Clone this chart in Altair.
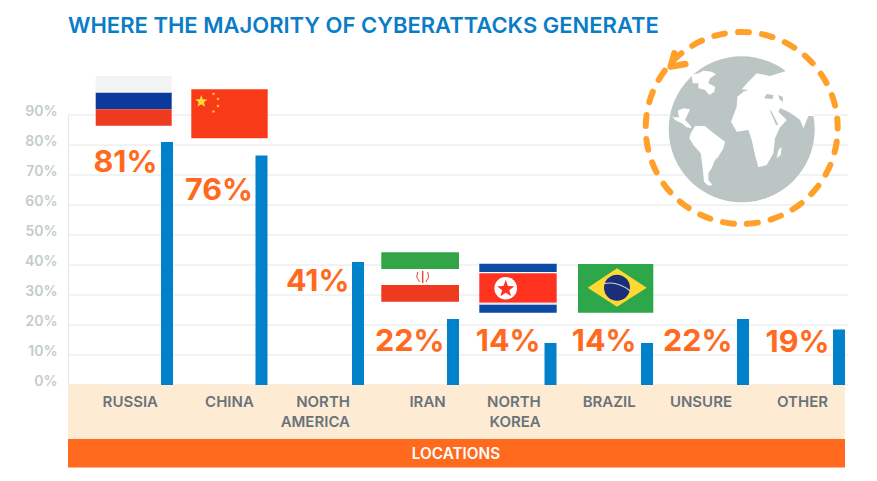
import math
import altair as alt
import pandas as pd

title_text = "WHERE THE MAJORITY OF CYBERATTACKS GENERATE"
categories = ["Russia", "China", "North America", "Iran", "North Korea", "Brazil", "Unsure", "Other"]
axis_names = ["RUSSIA", "CHINA", "NORTH\nAMERICA", "IRAN", "NORTH\nKOREA", "BRAZIL", "UNSURE", "OTHER"]
bar_values = [81, 76.5, 41, 22, 14, 14, 22, 18.5]
label_values = [81, 76, 41, 22, 14, 14, 22, 19]
y_ticks = [0, 10, 20, 30, 40, 50, 60, 70, 80, 90]

# styling tweaks per column, in pixels
bar_nudge = [1, -0.7, -0.4, -1.6, -0.3, 0, -0.2, -0.4]
label_gap = [3.5, 2.5, 2.5, 2.5, 4, 4.5, 4.5, 3.5]
label_drop = [30, 44, 29, 32, 8, 8, 32, 22]
name_gap = [3, 1.7, 2, 1.3, 3.7, 5.3, 5, 5]

FONT = "Inter"
ORANGE = "#FF6A1F"
BLUE = "#0081C9"
OX, OY = 68, 115
W, H = 777, 270

df = pd.DataFrame({"cat": categories, "name": axis_names, "bar": bar_values,
                   "label": [f"{v}%" for v in label_values]})
x_scale = alt.Scale(type="point", domain=categories, range=[166 - OX, 839.4 - OX], padding=0)
y_scale = alt.Scale(domain=[0, 90], range=[H, 0])
y_axis = alt.Axis(values=y_ticks, labelExpr="datum.value + '%'", grid=False, ticks=False,
                  domain=True, domainColor="#E6E6E6", labelColor="#C3CBCD", labelFont=FONT,
                  labelFontSize=14, labelFontWeight=600, labelPadding=11, labelOffset=-4,
                  labelOverlap=False)
dummy = alt.Data(values=[{"a": 1}])


def rect(x0, y0, x1, y1, color):
    return alt.Chart(dummy).mark_rect(color=color, opacity=1).encode(
        x=alt.value(x0 - OX), x2=alt.value(x1 - OX), y=alt.value(y0 - OY), y2=alt.value(y1 - OY))


def shape(path, cx, cy, fill=None, stroke=None, sw=0, size=4, **kw):
    args = dict(shape=path, size=size, opacity=1, strokeWidth=sw)
    if fill:
        args.update(filled=True, fill=fill)
    else:
        args.update(filled=False, fill="transparent")
    if stroke:
        args.update(stroke=stroke)
    args.update(kw)
    return alt.Chart(dummy).mark_point(**args).encode(x=alt.value(cx - OX), y=alt.value(cy - OY))


def star(r):
    pts = []
    for i in range(10):
        a = -math.pi / 2 + i * math.pi / 5
        q = r if i % 2 == 0 else r * 0.42
        pts.append(f"{q * math.cos(a):.2f},{q * math.sin(a):.2f}")
    return "M" + "L".join(pts) + "Z"


def poly(points, close=True, k=1 / 3, c=(335, 268)):
    s = "L".join(f"{(x - c[0]) * k:.2f},{(y - c[1]) * k:.2f}" for x, y in points)
    return "M" + s + ("Z" if close else "")


layers = []

# grid
grid_df = pd.DataFrame({"t": y_ticks})
layers.append(alt.Chart(grid_df).mark_rule(color="#E6E6E6", strokeWidth=1).encode(
    y=alt.Y("t:Q", scale=y_scale, title=None, axis=y_axis),
    x=alt.value(0), x2=alt.value(780)))

# title
layers.append(alt.Chart(dummy).mark_text(text=title_text, font=FONT, fontSize=22, fontWeight=600,
                                         color="#0A7DC6", align="left", baseline="alphabetic").encode(
    x=alt.value(0), y=alt.value(33 - OY)))

# category bands
layers.append(rect(68, 384.5, 845, 439, "#FEEBD3"))
layers.append(rect(68, 439, 845, 467.5, ORANGE))
layers.append(alt.Chart(dummy).mark_text(text="LOCATIONS", font=FONT, fontSize=15.3, fontWeight=600,
                                         color="white", align="center", baseline="alphabetic").encode(
    x=alt.value(456 - OX), y=alt.value(458.5 - OY)))

# bars and labels
for i, cat in enumerate(categories):
    sub = df[df.cat == cat]
    base = alt.Chart(sub)
    layers.append(base.mark_bar(width=12, color=BLUE, xOffset=bar_nudge[i]).encode(
        x=alt.X("cat:N", scale=x_scale, axis=None),
        y=alt.Y("bar:Q", scale=y_scale, title=None, axis=y_axis)))
    layers.append(base.mark_text(font=FONT, fontSize=30.5, fontWeight=700, color=ORANGE, align="right",
                                 baseline="alphabetic", dx=bar_nudge[i] - 6 - label_gap[i],
                                 dy=label_drop[i]).encode(
        x=alt.X("cat:N", scale=x_scale, axis=None),
        y=alt.Y("bar:Q", scale=y_scale, title=None, axis=y_axis),
        text="label:N"))
    layers.append(base.transform_calculate(lines="split(datum.name, '\\n')").mark_text(
        font=FONT, fontSize=15, fontWeight=600, color="#69737B", align="right",
        baseline="alphabetic", lineHeight=20, dx=bar_nudge[i] - 6 - name_gap[i]).encode(
        x=alt.X("cat:N", scale=x_scale, axis=None),
        y=alt.value(407 - OY),
        text="lines:N"))

# Russia flag
layers += [rect(95.7, 76, 171.7, 92.7, "#F2F4F3"), rect(95.7, 92.7, 171.7, 109.2, "#0B3A9C"),
           rect(95.7, 109.2, 171.7, 125.7, "#EE3A1F")]
# China flag
layers.append(rect(191.3, 89.3, 267.7, 138.3, "#F93A19"))
layers.append(shape(star(6.5), 201.3, 101.5, fill="#FFD83A"))
for sx, sy in [(213.5, 94), (218, 99), (218, 106), (213.5, 111.5)]:
    layers.append(shape(star(2), sx, sy, fill="#FFC83A"))
# Iran flag
layers += [rect(381.3, 252.3, 459, 269, "#33A548"), rect(381.3, 269, 459, 285, "#FFFFFF"),
           rect(381.3, 285, 459, 301.7, "#EE3A1F")]
layers.append(shape(poly([(-5, -5), (-6, 0), (-3, 5)], False, 1, (0, 0)), 422.7, 277, stroke="#E8452F", sw=1))
layers.append(shape(poly([(5, -5), (6, 0), (3, 5)], False, 1, (0, 0)), 422.7, 277, stroke="#E8452F", sw=1))
layers.append(shape(poly([(0, -6), (0, 6)], False, 1, (0, 0)), 422.7, 277, stroke="#E8452F", sw=1.4))
# North Korea flag
layers += [rect(479.3, 263.7, 556.7, 272, "#0B4BA5"), rect(479.3, 272, 556.7, 273.3, "#FFFFFF"),
           rect(479.3, 273.3, 556.7, 302.7, "#FF3320"), rect(479.3, 302.7, 556.7, 304.7, "#E4E4EA"),
           rect(479.3, 304.7, 556.7, 312.7, "#0B4BA5")]
layers.append(shape("circle", 505.7, 288.3, fill="white", size=(2 * 11.3) ** 2))
layers.append(shape(star(9), 505.7, 289, fill="#FF3320"))
# Brazil flag
layers.append(rect(578, 264, 653.3, 312.7, "#2EA64A"))
layers.append(shape("M-29.3,0L0,-19.4L29.7,0L0,19Z", 617, 287.7, fill="#FFD832"))
layers.append(shape("circle", 617, 287.7, fill="#1A2F78", size=26 ** 2))
layers.append(shape("M-13,-4Q0,-7 13,3", 617, 287.7, stroke="#C9D3D8", sw=1.2))

# globe
GX, GY = 741.7, 129.3
land = [
    [(185, 105), (205, 100), (220, 92), (245, 95), (258, 103), (240, 115), (235, 130), (255, 140),
     (253, 155), (238, 165), (225, 150), (205, 145), (205, 130), (188, 130)],
    [(119, 222), (135, 240), (155, 250), (170, 262), (185, 265), (180, 255), (165, 240), (172, 225),
     (180, 208), (160, 205), (143, 212), (147, 232), (130, 232)],
    [(182, 280), (195, 258), (225, 258), (245, 275), (265, 290), (285, 305), (280, 325), (265, 350),
     (255, 360), (245, 385), (235, 400), (235, 420), (248, 435), (235, 437), (222, 425), (218, 385),
     (212, 340), (190, 315), (178, 295)],
    [(355, 125), (380, 100), (420, 108), (470, 92), (505, 125), (535, 170), (553, 228), (535, 228),
     (520, 265), (510, 240), (490, 225), (475, 215), (450, 205), (445, 215), (470, 240), (450, 262),
     (435, 295), (430, 340), (410, 375), (385, 382), (375, 345), (365, 300), (355, 270), (320, 275),
     (303, 245), (320, 200), (322, 170), (340, 155), (355, 150), (335, 148)],
    [(440, 355), (445, 330), (455, 320), (452, 345)],
]
seas = [
    [(402, 175), (410, 162), (430, 165), (428, 177)],
    [(445, 165), (458, 170), (460, 187), (448, 178)],
    [(418, 208), (425, 215), (445, 255), (438, 255)],
    [(450, 205), (475, 218), (470, 224), (452, 212)],
]
layers.append(shape("circle", GX, GY, fill="#BBC5C3", size=(2 * 73) ** 2))
for p in land:
    layers.append(shape(poly(p), GX, GY, fill="#FFFFFF"))
for p in seas:
    layers.append(shape(poly(p), GX, GY, fill="#BBC5C3"))
RING = "#FFA02B"
layers.append(shape("circle", GX, GY - 1.3, stroke=RING, sw=6, size=(2 * 96) ** 2,
                    strokeDash=[11, 13.13], strokeDashOffset=10.5, strokeCap="round"))
layers.append(shape(poly([(133, 40), (122, 80), (166, 72)], False), GX, GY, stroke=RING, sw=6.5,
                    strokeCap="round", strokeJoin="round"))

chart = alt.layer(*layers).resolve_scale(x="shared", y="shared").properties(
    width=W, height=H, autosize="none", background="white",
    padding={"left": 60, "top": 107, "right": 24, "bottom": 88},
).configure_view(stroke=None)

chart.save("out.html", embed_options={"renderer": "svg", "actions": False})
